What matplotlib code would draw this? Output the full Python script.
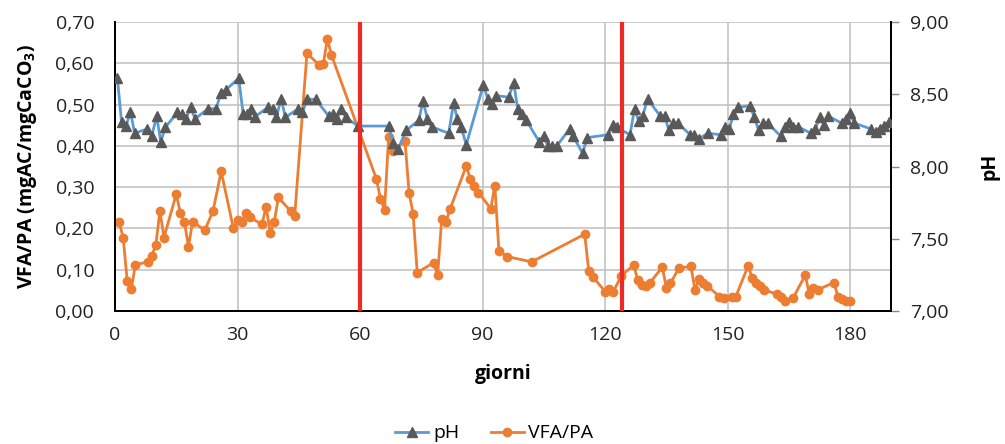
import matplotlib
matplotlib.use("Agg")
import matplotlib.pyplot as plt
from matplotlib.ticker import FuncFormatter, MultipleLocator

plt.rcParams['font.family'] = ['Open Sans', 'DejaVu Sans']
plt.rcParams['mathtext.fontset'] = 'custom'
plt.rcParams['mathtext.rm'] = 'Open Sans'
plt.rcParams['mathtext.bf'] = 'Open Sans:bold'

# pH (secondary axis)
ph_days = [0.6, 1.6, 2.7, 3.8, 4.8, 7.9, 9.0, 10.2, 11.2, 12.3,
           15.3, 16.3, 17.4, 18.5, 19.6, 22.8, 24.8, 25.9, 27.1, 30.3,
           31.4, 32.4, 33.4, 34.3, 37.5, 38.6, 39.5, 40.7, 41.7, 44.9,
           45.9, 47.1, 49.1, 52.3, 53.4, 54.3, 55.4, 56.5, 59.5, 67.1,
           68.0, 69.3, 71.3, 74.4, 75.4, 76.5, 77.5, 81.7, 82.9, 83.8,
           84.8, 86.0, 90.2, 91.3, 92.4, 93.4, 96.4, 97.6, 98.6, 99.7,
           100.7, 103.9, 105.0, 106.0, 107.0, 108.1, 111.3, 112.2, 114.5, 115.6,
           120.8, 122.0, 122.8, 126.1, 127.2, 128.2, 129.2, 130.4, 133.5, 134.6,
           135.6, 136.7, 137.8, 140.8, 141.8, 142.9, 145.1, 148.3, 149.4, 150.4,
           151.4, 152.5, 155.5, 156.5, 157.6, 158.6, 159.8, 163.0, 164.1, 165.1,
           166.1, 167.2, 170.4, 171.5, 172.5, 173.5, 174.6, 177.9, 178.9, 179.9,
           181.0, 185.1, 186.2, 187.3, 188.3, 189.4]
ph_vals = [8.61, 8.31, 8.28, 8.38, 8.23, 8.26, 8.21, 8.35, 8.17, 8.27,
           8.375, 8.36, 8.33, 8.41, 8.33, 8.40, 8.40, 8.51, 8.53, 8.61,
           8.36, 8.36, 8.40, 8.345, 8.41, 8.40, 8.34, 8.47, 8.34, 8.40,
           8.375, 8.465, 8.465, 8.35, 8.36, 8.33, 8.40, 8.34, 8.28, 8.28,
           8.16, 8.12, 8.25, 8.32, 8.455, 8.33, 8.275, 8.23, 8.44, 8.33,
           8.27, 8.15, 8.565, 8.465, 8.43, 8.49, 8.48, 8.58, 8.40, 8.36,
           8.32, 8.17, 8.21, 8.14, 8.14, 8.14, 8.26, 8.21, 8.09, 8.20,
           8.22, 8.29, 8.27, 8.22, 8.40, 8.315, 8.35, 8.465, 8.35, 8.35,
           8.25, 8.30, 8.30, 8.22, 8.22, 8.19, 8.23, 8.22, 8.275, 8.26,
           8.36, 8.41, 8.42, 8.34, 8.25, 8.30, 8.30, 8.21, 8.27, 8.31,
           8.275, 8.275, 8.23, 8.26, 8.34, 8.29, 8.35, 8.30, 8.33, 8.37,
           8.30, 8.26, 8.24, 8.26, 8.28, 8.31]

# VFA/PA (primary axis)
vfa_days = [1, 2, 3, 4, 5, 8, 9, 10, 11, 12,
            15, 16, 17, 18, 19, 22, 24, 26, 29, 30,
            31, 32, 33, 36, 37, 38, 39, 40, 43, 44,
            47, 50, 51, 52, 53, 64, 65, 66, 67, 68,
            71, 72, 73, 74, 78, 79, 80, 81, 82, 86,
            87, 88, 89, 92, 93, 94, 96, 102, 115, 116,
            117, 120, 121, 122, 124, 127, 128, 129, 130, 131,
            134, 135, 136, 138, 141, 142, 143, 144, 145, 148,
            149, 151, 152, 155, 156, 157, 158, 159, 162, 163,
            164, 166, 169, 170, 171, 172, 176, 177, 178, 179,
            180]
vfa_vals = [0.216, 0.178, 0.073, 0.053, 0.112, 0.119, 0.134, 0.160, 0.242, 0.178,
            0.283, 0.238, 0.216, 0.156, 0.216, 0.196, 0.242, 0.338, 0.200, 0.220,
            0.215, 0.237, 0.227, 0.210, 0.253, 0.190, 0.216, 0.275, 0.242, 0.230,
            0.624, 0.596, 0.598, 0.659, 0.620, 0.320, 0.272, 0.245, 0.422, 0.388,
            0.412, 0.287, 0.235, 0.093, 0.117, 0.087, 0.224, 0.215, 0.246, 0.351,
            0.320, 0.303, 0.287, 0.248, 0.303, 0.146, 0.132, 0.119, 0.186, 0.097,
            0.083, 0.047, 0.053, 0.047, 0.086, 0.111, 0.075, 0.063, 0.061, 0.069,
            0.106, 0.056, 0.067, 0.103, 0.109, 0.051, 0.077, 0.067, 0.061, 0.035,
            0.031, 0.035, 0.035, 0.109, 0.081, 0.069, 0.061, 0.051, 0.041, 0.033,
            0.025, 0.031, 0.087, 0.041, 0.055, 0.051, 0.069, 0.035, 0.028, 0.025,
            0.024]

phase_days = [60, 124.2]

comma = FuncFormatter(lambda v, p: f"{v:.2f}".replace('.', ','))

fig = plt.figure(figsize=(10.05, 4.44), dpi=100)
ax = fig.add_axes([0.1144, 0.2995, 0.7722, 0.651])
ax2 = ax.twinx()

grid_c = '#BFBFBF'
ax.set_xlim(0, 190)
ax.set_ylim(0, 0.70)
ax.xaxis.set_major_locator(MultipleLocator(30))
ax.yaxis.set_major_locator(MultipleLocator(0.10))
ax.yaxis.set_major_formatter(comma)
ax.grid(True, color=grid_c, linewidth=1.1)
ax.set_axisbelow(True)

ax2.set_ylim(7.0, 9.0)
ax2.yaxis.set_major_locator(MultipleLocator(0.5))
ax2.yaxis.set_major_formatter(comma)

vfa_line, = ax.plot(vfa_days, vfa_vals, color='#ED7D31', linewidth=2,
                    marker='o', markersize=6, label='VFA/PA', zorder=3)
ph_line, = ax2.plot(ph_days, ph_vals, color='#5B9BD5', linewidth=2,
                    marker='^', markersize=7, markerfacecolor='#595959',
                    markeredgecolor='#595959', label='pH', zorder=3)

for d in phase_days:
    ax2.axvline(d, color='#EE2A24', linewidth=3, zorder=5)

for a in (ax, ax2):
    a.spines['top'].set_visible(False)
    for s in ('left', 'right', 'bottom'):
        a.spines[s].set_color('black')
        a.spines[s].set_linewidth(1.3)

fs = 14
ax.tick_params(axis='both', length=0, labelsize=fs, colors='#222222')
ax.tick_params(axis='x', pad=11)
ax.tick_params(axis='y', pad=15)
ax2.tick_params(axis='y', length=6, width=1, color='#888888', labelsize=fs,
                labelcolor='#222222', pad=8)

ax.set_xlabel('giorni', fontsize=fs, fontweight='bold', labelpad=14)
ax.set_ylabel(r'VFA/PA (mgAC/mgCaCO$_\mathbf{3}$)', fontsize=fs,
              fontweight='bold', labelpad=12)
ax2.set_ylabel('pH', fontsize=fs, fontweight='bold', rotation=90, labelpad=22)

fig.legend(handles=[ph_line, vfa_line], loc='center', bbox_to_anchor=(0.492, 0.024),
           ncol=2, frameon=False, fontsize=fs, handlelength=1.7,
           handletextpad=0.25, columnspacing=1.6)

fig.savefig('out.png', dpi=100)
